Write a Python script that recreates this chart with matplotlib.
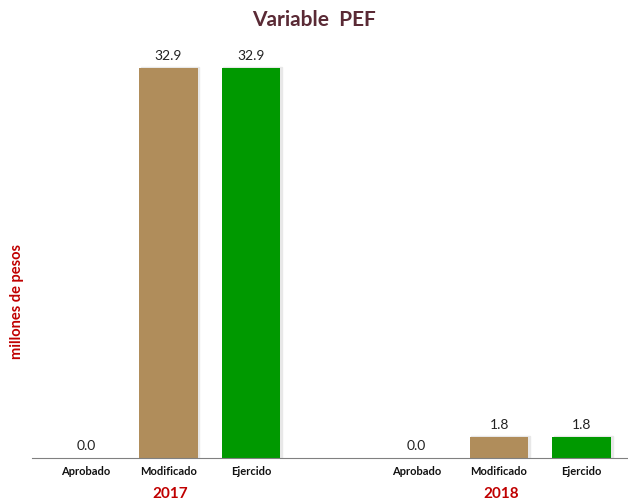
import matplotlib.pyplot as plt
from matplotlib.patches import Rectangle

plt.rcParams['font.family'] = ['Lato', 'DejaVu Sans']

years = ['2017', '2018']
categories = ['Aprobado', 'Modificado', 'Ejercido']
values_2017 = [0.0, 32.9, 32.9]
values_2018 = [0.0, 1.8, 1.8]
colors = ['#b08d5b', '#b08d5b', '#009900']

fig = plt.figure(figsize=(6.28, 5.03), dpi=100)
ax = fig.add_axes([0.051, 0.0895, 0.949, 0.801])

width = 0.71
for g, vals in enumerate([values_2017, values_2018]):
    for i, v in enumerate(vals):
        x = g * 4 + i - 0.02
        if v > 0:
            # sombra muy suave
            ax.add_patch(Rectangle((x - width / 2 + 0.02, 0), width, v + 0.08,
                                   color='#e8e8e8', zorder=1))
        ax.bar(x, v, width=width, color=colors[i], zorder=2)
        ax.text(x, v + 0.5, f'{v:.1f}', ha='center', va='bottom', fontsize=10, color='#222222')
        ax.text(x, -1.1, categories[i], ha='center', va='center', fontsize=8,
                fontweight='bold', color='#111111')
    ax.text(g * 4 + 1, -3.0, years[g], ha='center', va='center', fontsize=11,
            fontweight='bold', color='#c00000')

ax.set_xlim(-0.67, 6.54)
ax.set_ylim(0, 34.0)
for s in ['top', 'right', 'left']:
    ax.spines[s].set_visible(False)
ax.spines['bottom'].set_color('#808080')
ax.set_xticks([])
ax.set_yticks([])

fig.text(0.5, 0.96, 'Variable  PEF', ha='center', va='center', fontsize=15,
         fontweight='bold', color='#5a2a35')
fig.text(0.027, 0.40, 'millones de pesos', rotation=90, ha='center', va='center',
         fontsize=10.5, fontweight='bold', color='#c00000')

fig.savefig('out.png', dpi=100)
